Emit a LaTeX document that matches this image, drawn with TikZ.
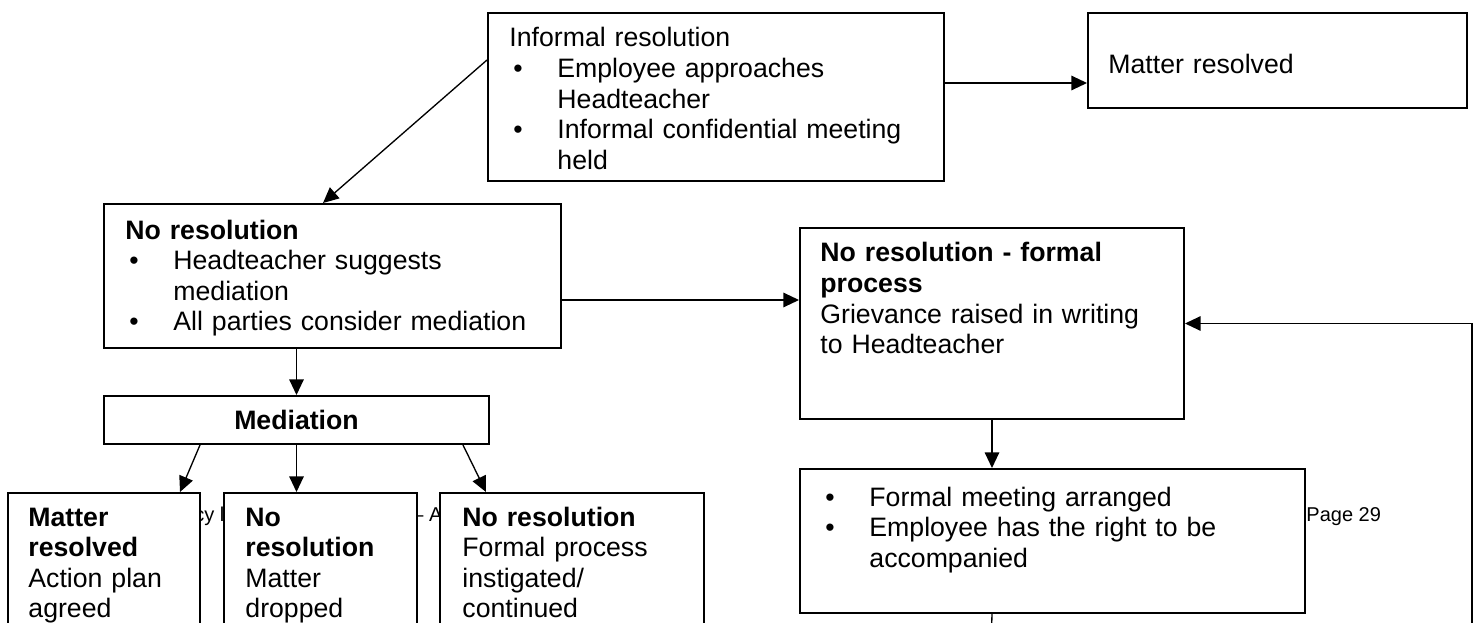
\documentclass[tikz,border=0pt]{standalone}
\usepackage{fontspec}
\setmainfont{Liberation Sans}
\usetikzlibrary{arrows.meta,calc}
\newcommand{\bitm}{\hspace*{1.8pt}\makebox[19.8pt][l]{\textbullet}}
\newcommand{\bind}{\hspace*{21.6pt}}
\tikzset{
  box/.style={draw=black, line width=0.9pt, fill=white, anchor=north west, inner sep=0pt},
  txt/.style={anchor=base west, align=left, inner sep=0pt, text width=230pt, font=\fontsize{12}{13.75}\selectfont},
  arr/.style={line width=0.6pt, -{Triangle[length=7pt,width=6.5pt]}},
  plain/.style={line width=0.6pt},
  foot/.style={anchor=base west, inner sep=0pt, font=\fontsize{9}{10}\selectfont}
}
\begin{document}
\begin{tikzpicture}[x=0.45pt,y=-0.45pt]
\useasboundingbox (0,0) rectangle (1480,623);
\clip (0,0) rectangle (1480,623);
% footer fragments (mostly hidden behind the boxes)
\node[foot] (f1) at (194,521) {cy l};
\node[foot] (f2) at (412,521) {– A};
\node[foot] (pg) at (1306,521) {Page 29};
% boxes
\node[box, minimum width=205.2pt, minimum height=75.6pt] (A) at (487,12) {};
\node[box, minimum width=170.55pt, minimum height=42.75pt] (B) at (1087,12) {};
\node[box, minimum width=205.65pt, minimum height=64.8pt] (C) at (103,203) {};
\node[box, minimum width=172.8pt, minimum height=85.95pt] (D) at (799,227) {};
\node[box, minimum width=173.25pt, minimum height=21.6pt, font=\fontsize{12}{13.75}\selectfont\bfseries] (E) at (103,395) {Mediation};
\node[box, minimum width=86.4pt, minimum height=72pt] (F1) at (7,492) {};
\node[box, minimum width=86.85pt, minimum height=72pt] (F2) at (223,492) {};
\node[box, minimum width=118.8pt, minimum height=72pt] (G) at (439,492) {};
\node[box, minimum width=227.25pt, minimum height=64.8pt] (H) at (799,468) {};
% texts
\node[txt] (At) at ([shift={(22,35)}]A.north west) {Informal resolution\\ \bitm Employee approaches\\ \bind Headteacher\\ \bitm Informal confidential meeting\\ \bind held};
\node[txt] (Bt) at ([shift={(21,62)}]B.north west) {Matter resolved};
\node[txt] (Ct) at ([shift={(22,36)}]C.north west) {\textbf{No resolution}\\ \bitm Headteacher suggests\\ \bind mediation\\ \bitm All parties consider mediation};
\node[txt] (Dt) at ([shift={(21,35)}]D.north west) {\textbf{No resolution - formal}\\ \textbf{process}\\ Grievance raised in writing\\ to Headteacher};
\node[txt] (F1t) at ([shift={(21,34)}]F1.north west) {\textbf{Matter}\\ \textbf{resolved}\\ Action plan\\ agreed};
\node[txt] (F2t) at ([shift={(22,34)}]F2.north west) {\textbf{No}\\ \textbf{resolution}\\ Matter\\ dropped};
\node[txt] (Gt) at ([shift={(23,34)}]G.north west) {\textbf{No resolution}\\ Formal process\\ instigated/\\ continued};
\node[txt] (Ht) at ([shift={(22,38)}]H.north west) {\bitm Formal meeting arranged\\ \bitm Employee has the right to be\\ \bind accompanied};
% connectors
\draw[arr] (A.east |- 0,83) -- (B.west |- 0,83);
\draw[arr] (A.west |- 0,60) -- (C.north -| 323,0);
\draw[arr] (C.east |- 0,300) -- (D.west |- 0,300);
\draw[arr] (C.south -| E.north) -- (E.north);
\draw[arr] (E.south -| 200,0) -- (F1.north -| 180,0);
\draw[arr] (E.south) -- (E.south |- F2.north);
\draw[arr] (E.south -| 463,0) -- (G.north -| 486,0);
\draw[arr] (D.south) -- (D.south |- H.north);
\coordinate (hEnd) at (991,650);
\draw[plain] (H.south -| D.south) -- (hEnd);
\coordinate (rB) at (1472,650);
\draw[arr] (rB) |- (D.east);
\end{tikzpicture}
\end{document}
